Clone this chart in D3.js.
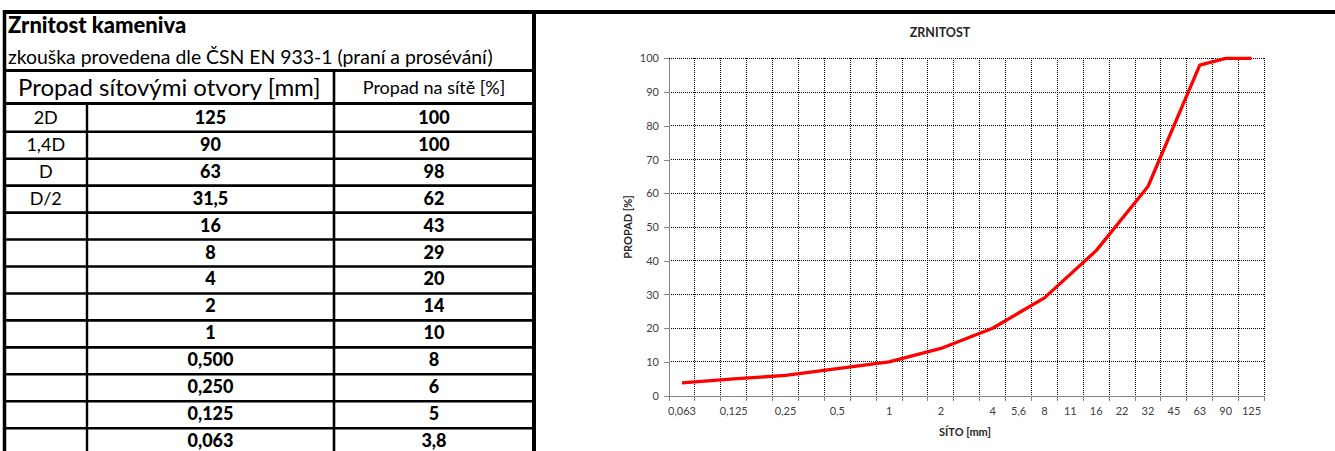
<!DOCTYPE html>
<html>
<head>
<meta charset="utf-8">
<script src="https://cdn.jsdelivr.net/npm/d3@7"></script>
<style>
  body { margin: 0; background: #fff; }
  svg { display: block; }
  .tbl text { font-family: Lato, "Open Sans", sans-serif; fill: #000; }
  .chart text { font-family: Lato, "Open Sans", sans-serif; fill: #404040; }
  .grid line { stroke: #000; stroke-width: 1; stroke-dasharray: 1,1; shape-rendering: crispEdges; }
  .axis path, .axis line { stroke: #868686; shape-rendering: crispEdges; }
</style>
</head>
<body>
<div id="page"></div>
<script>
// table data (top row = biggest sieve)
var sieveSizes = [125, 90, 63, 31.5, 16, 8, 4, 2, 1, 0.5, 0.25, 0.125, 0.063];
var sieveMarks = ["2D", "1,4D", "D", "D/2", "", "", "", "", "", "", "", "", ""];
var passing = [100, 100, 98, 62, 43, 29, 20, 14, 10, 8, 6, 5, 3.8];

// chart category axis (sieve set), labels as printed under the axis
var axisSieves = [0.063, 0.09, 0.125, 0.18, 0.25, 0.355, 0.5, 0.71, 1, 1.4, 2, 2.8, 4, 5.6, 8, 11.2, 16, 22.4, 31.5, 45, 63, 90, 125];
var axisLabels = ["0,063", "", "0,125", "", "0,25", "", "0,5", "", "1", "", "2", "", "4", "5,6", "8", "11", "16", "22", "32", "45", "63", "90", "125"];
var yTicks = [0, 10, 20, 30, 40, 50, 60, 70, 80, 90, 100];

var W = 1335, H = 451;
var cz = d3.formatLocale({ decimal: ",", thousands: " ", grouping: [3], currency: ["", ""] });
var fmt3 = cz.format(".3f");

function sieveText(v) {
    return v < 1 ? fmt3(v) : String(v).replace(".", ",");
}
function passText(v) {
    return String(v).replace(".", ",");
}

var svg = d3.select("#page").append("svg")
    .attr("width", W)
    .attr("height", H);

svg.append("rect").attr("width", W).attr("height", H).attr("fill", "#fff");

drawTable();
drawChart();

function drawTable() {
    var g = svg.append("g").attr("class", "tbl");
    var left = 4.5, right = 534, col1 = 87, col2 = 334;
    var rowTop = 104.8, rowH = 26.95;

    // rows
    var rows = g.selectAll(".row")
        .data(sieveSizes)
        .enter().append("g")
        .attr("class", "row")
        .attr("transform", function (d, i) { return "translate(0," + (rowTop + i * rowH) + ")"; });

    rows.filter(function (d, i) { return i > 0; })
        .append("line")
        .attr("x1", left).attr("x2", right)
        .attr("y1", 0).attr("y2", 0)
        .attr("stroke", "#000").attr("stroke-width", 2.6);

    rows.append("text")
        .attr("x", (left + col1) / 2)
        .attr("y", rowH / 2 + 5.5)
        .attr("text-anchor", "middle")
        .style("font-size", "18px")
        .text(function (d, i) { return sieveMarks[i]; });

    rows.append("text")
        .attr("x", (col1 + col2) / 2)
        .attr("y", rowH / 2 + 5.5)
        .attr("text-anchor", "middle")
        .style("font-size", "18px")
        .style("font-weight", "900")
        .text(function (d) { return sieveText(d); });

    rows.append("text")
        .attr("x", (col2 + right) / 2)
        .attr("y", rowH / 2 + 5.5)
        .attr("text-anchor", "middle")
        .style("font-size", "18px")
        .style("font-weight", "900")
        .text(function (d, i) { return passText(passing[i]); });

    // header
    g.append("text")
        .attr("x", 8).attr("y", 33)
        .style("font-size", "22px")
        .style("font-weight", "900")
        .text("Zrnitost kameniva");
    g.append("text")
        .attr("x", 8).attr("y", 64)
        .style("font-size", "19.4px")
        .text("zkouška provedena dle ČSN EN 933-1 (praní a prosévání)");
    g.append("text")
        .attr("x", (left + col2) / 2).attr("y", 96)
        .attr("text-anchor", "middle")
        .style("font-size", "24px")
        .text("Propad sítovými otvory [mm]");
    g.append("text")
        .attr("x", (col2 + right) / 2).attr("y", 94)
        .attr("text-anchor", "middle")
        .style("font-size", "18px")
        .text("Propad na sítě [%]");

    // lines
    var ln = function (x1, y1, x2, y2, w) {
        g.append("line")
            .attr("x1", x1).attr("y1", y1).attr("x2", x2).attr("y2", y2)
            .attr("stroke", "#000").attr("stroke-width", w);
    };
    ln(3, 12, W, 12, 4);
    ln(left, 10, left, H, 3.5);
    ln(right, 10, right, H, 4);
    ln(left, 70.5, right, 70.5, 3);
    ln(left, 103.5, right, 103.5, 3);
    ln(col2, 70.5, col2, H, 2.6);
    ln(col1, 103.5, col1, H, 2.4);
}

function drawChart() {
    var margin = { top: 58.3, left: 669, right: W - 1264.5, bottom: H - 395.7 };
    var width = W - margin.left - margin.right;
    var height = H - margin.top - margin.bottom;

    var g = svg.append("g")
        .attr("class", "chart")
        .attr("transform", "translate(" + margin.left + "," + margin.top + ")");

    var x = d3.scaleBand().domain(axisSieves).range([0, width]).padding(0);
    var y = d3.scaleLinear().domain([0, 100]).range([height, 0]);
    var bw = x.bandwidth();

    // grid
    var grid = g.append("g").attr("class", "grid");
    grid.selectAll(".v")
        .data(axisSieves)
        .enter().append("line")
        .attr("x1", function (d) { return x(d) + bw; })
        .attr("x2", function (d) { return x(d) + bw; })
        .attr("y1", 0).attr("y2", height);
    grid.selectAll(".h")
        .data(yTicks.filter(function (t) { return t > 0; }))
        .enter().append("line")
        .attr("x1", 0).attr("x2", width)
        .attr("y1", function (d) { return y(d); })
        .attr("y2", function (d) { return y(d); });

    // y axis
    var ya = g.append("g")
        .attr("class", "axis")
        .call(d3.axisLeft(y).tickValues(yTicks).tickSize(5).tickPadding(5).tickSizeOuter(0));
    ya.selectAll("text").style("font-size", "11px").attr("fill", "#404040");

    // x axis: labels in the middle of categories, ticks on the boundaries
    var xa = g.append("g")
        .attr("class", "axis")
        .attr("transform", "translate(0," + height + ")")
        .call(d3.axisBottom(x).tickSize(0).tickPadding(12).tickSizeOuter(0)
            .tickFormat(function (d, i) { return axisLabels[i]; }));
    xa.selectAll("text").style("font-size", "11px").attr("fill", "#404040");
    xa.selectAll(".bnd")
        .data([0].concat(axisSieves.map(function (d) { return x(d) + bw; })))
        .enter().append("line")
        .attr("class", "bnd")
        .attr("x1", function (d) { return d; })
        .attr("x2", function (d) { return d; })
        .attr("y1", 0).attr("y2", 5);

    // curve
    var pts = sieveSizes.map(function (s, i) { return { s: s, v: passing[i] }; })
        .sort(function (a, b) { return a.s - b.s; });
    var line = d3.line()
        .x(function (d) { return x(d.s) + bw / 2; })
        .y(function (d) { return y(d.v); });
    g.append("path")
        .datum(pts)
        .attr("d", line)
        .attr("fill", "none")
        .attr("stroke", "#ff0000")
        .attr("stroke-width", 3.3)
        .attr("stroke-linejoin", "round");

    // titles
    svg.append("text")
        .attr("x", 940).attr("y", 37)
        .attr("text-anchor", "middle")
        .style("font-family", "Lato, sans-serif")
        .style("font-size", "12.5px")
        .style("font-weight", "bold")
        .attr("fill", "#262626")
        .text("ZRNITOST");
    svg.append("text")
        .attr("x", 965).attr("y", 436)
        .attr("text-anchor", "middle")
        .style("font-family", "Lato, sans-serif")
        .style("font-size", "11px")
        .style("font-weight", "bold")
        .attr("fill", "#262626")
        .text("SÍTO [mm]");
    svg.append("text")
        .attr("transform", "translate(632," + (margin.top + height / 2) + ") rotate(-90)")
        .attr("text-anchor", "middle")
        .style("font-family", "Lato, sans-serif")
        .style("font-size", "11px")
        .style("font-weight", "bold")
        .attr("fill", "#262626")
        .text("PROPAD [%]");
}
</script>
</body>
</html>
